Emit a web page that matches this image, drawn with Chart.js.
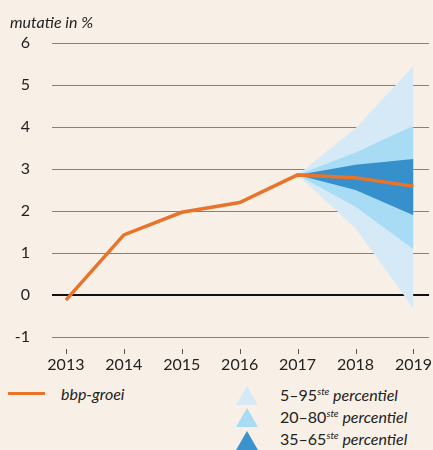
<!DOCTYPE html>
<html>
<head>
<meta charset="utf-8">
<script src="https://cdn.jsdelivr.net/npm/chart.js@4/dist/chart.umd.min.js"></script>
<style>
  html, body { margin: 0; padding: 0; background: #f8f0e6; }
  #wrap { position: relative; width: 433px; height: 450px; overflow: hidden; font-family: Lato, "Open Sans", sans-serif; color: #222; }
  #chartBox { position: absolute; left: 0; top: 0; width: 433px; height: 380px; }
  .title { position: absolute; left: 10px; top: 12px; font-size: 16px; font-style: italic; }
  .lg { position: absolute; font-size: 16px; white-space: nowrap; }
  .lg i sup { font-size: 10px; }
  .line { position: absolute; left: 8px; top: 392px; width: 37px; height: 3px; background: #e8742b; }
  .tri { position: absolute; left: 236px; width: 0; height: 0; border-left: 11px solid transparent; border-right: 11px solid transparent; border-bottom: 19px solid; }
</style>
</head>
<body>
<div id="wrap">
  <div id="chartBox"><canvas id="fanChart"></canvas></div>
  <div class="title">mutatie in %</div>
  <div class="line"></div>
  <div class="lg" style="left:61px; top:384px;"><i>bbp-groei</i></div>
  <div class="tri" style="top:386px; border-bottom-color:#d5e9f6;"></div>
  <div class="tri" style="top:408px; border-bottom-color:#a6dcf4;"></div>
  <div class="tri" style="top:431px; border-bottom-color:#3a93cd;"></div>
  <div class="lg" style="left:280px; top:385px;">5–95<i><sup>ste</sup> percentiel</i></div>
  <div class="lg" style="left:280px; top:407px;">20–80<i><sup>ste</sup> percentiel</i></div>
  <div class="lg" style="left:280px; top:429px;">35–65<i><sup>ste</sup> percentiel</i></div>
</div>
<script>
const years = [2013, 2014, 2015, 2016, 2017, 2018, 2019];
const bbpGroei = [-0.12, 1.43, 1.97, 2.2, 2.86, 2.79, 2.59];

// onzekerheidswaaier vanaf 2017
const fanYears = [2017, 2018, 2019];
const p5 = [2.86, 1.59, -0.32];
const p95 = [2.86, 3.97, 5.45];
const p20 = [2.86, 2.1, 1.09];
const p80 = [2.86, 3.39, 4.03];
const p35 = [2.86, 2.5, 1.9];
const p65 = [2.86, 3.1, 3.24];

const yTicks = [-1, 0, 1, 2, 3, 4, 5, 6];

const pts = (xs, ys) => xs.map((x, i) => ({ x, y: ys[i] }));

const band = (upper, lower, color, order) => ([
  {
    data: pts(fanYears, upper),
    borderWidth: 0,
    pointRadius: 0,
    backgroundColor: color,
    fill: '+1',
    order,
  },
  {
    data: pts(fanYears, lower),
    borderWidth: 0,
    pointRadius: 0,
    fill: false,
    order,
  },
]);

// korte streepjes onder de x-as, los van de as
const yearTicks = {
  id: 'yearTicks',
  afterDraw(chart) {
    const { ctx, chartArea } = chart;
    const x = chart.scales.x;
    ctx.save();
    ctx.fillStyle = '#555';
    years.forEach(v => {
      const px = Math.round(x.getPixelForValue(v));
      ctx.fillRect(px, chartArea.bottom + 12, 1, 5);
    });
    ctx.restore();
  }
};

const tickFont = { family: 'Lato, "Open Sans", sans-serif', size: 16 };

new Chart(document.getElementById('fanChart'), {
  type: 'line',
  data: {
    datasets: [
      {
        label: 'bbp-groei',
        data: pts(years, bbpGroei),
        borderColor: '#e8742b',
        borderWidth: 3.5,
        pointRadius: 0,
        fill: false,
        tension: 0,
        order: 0,
      },
      ...band(p65, p35, '#3590cc', 1),
      ...band(p80, p20, '#a7dcf4', 2),
      ...band(p95, p5, '#d6e9f6', 3),
    ]
  },
  options: {
    responsive: true,
    maintainAspectRatio: false,
    animation: false,
    layout: { padding: { top: 43, left: 0, right: 0, bottom: 0 } },
    plugins: {
      legend: { display: false },
      tooltip: { enabled: false },
    },
    scales: {
      x: {
        type: 'linear',
        min: 2012.76,
        max: 2019.27,
        afterBuildTicks: (s) => { s.ticks = years.map(v => ({ value: v })); },
        afterFit: (s) => { s.height = 43; },
        border: { display: false },
        grid: {
          drawOnChartArea: false,
          drawTicks: true,
          tickLength: 17,
          tickColor: 'rgba(0,0,0,0)',
        },
        ticks: {
          color: '#222',
          font: tickFont,
          padding: 1,
          maxRotation: 0,
          autoSkip: false,
          callback: v => String(v),
        },
      },
      y: {
        min: -1,
        max: 6,
        afterBuildTicks: (s) => { s.ticks = yTicks.map(v => ({ value: v })); },
        afterFit: (s) => { s.width = 52; },
        border: { display: false },
        grid: {
          drawTicks: false,
          color: ctx => ctx.tick && ctx.tick.value === 0 ? '#111' : '#8a8079',
          lineWidth: ctx => ctx.tick && ctx.tick.value === 0 ? 2 : 1,
        },
        ticks: {
          color: '#222',
          font: tickFont,
          padding: 22,
        },
      }
    }
  },
  plugins: [yearTicks]
});
</script>
</body>
</html>
